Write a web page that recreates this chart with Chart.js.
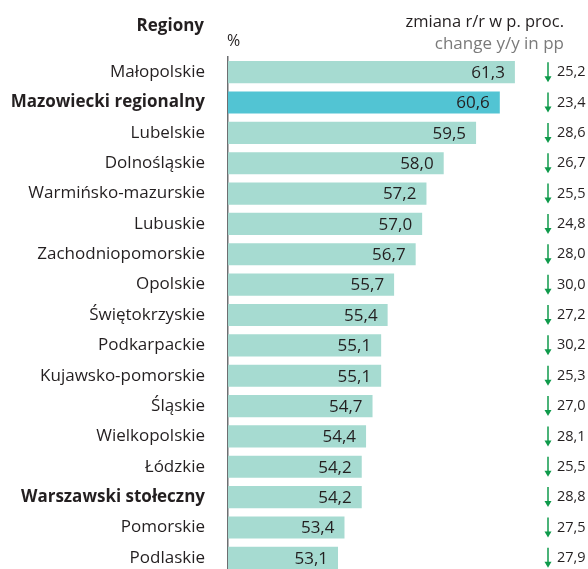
<!DOCTYPE html>
<html>
<head>
<meta charset="utf-8">
<script src="https://cdn.jsdelivr.net/npm/chart.js@4.4.1/dist/chart.umd.min.js"></script>
<style>
    html, body { margin: 0; padding: 0; background: #fff; overflow: hidden; }
    #wrap { position: relative; width: 588px; height: 573px; }
</style>
</head>
<body>
<div id="wrap"><canvas id="regionsChart"></canvas></div>
<script>
const regions = [
    'Małopolskie', 'Mazowiecki regionalny', 'Lubelskie', 'Dolnośląskie',
    'Warmińsko-mazurskie', 'Lubuskie', 'Zachodniopomorskie', 'Opolskie',
    'Świętokrzyskie', 'Podkarpackie', 'Kujawsko-pomorskie', 'Śląskie',
    'Wielkopolskie', 'Łódzkie', 'Warszawski stołeczny', 'Pomorskie', 'Podlaskie'
];
const shares = [61.3, 60.6, 59.5, 58.0, 57.2, 57.0, 56.7, 55.7, 55.4, 55.1, 55.1, 54.7, 54.4, 54.2, 54.2, 53.4, 53.1];
const changes = [25.2, 23.4, 28.6, 26.7, 25.5, 24.8, 28.0, 30.0, 27.2, 30.2, 25.3, 27.0, 28.1, 25.5, 28.8, 27.5, 27.9];
const boldRegions = ['Mazowiecki regionalny', 'Warszawski stołeczny'];
const highlighted = ['Mazowiecki regionalny'];

const FONT = '"Open Sans", "Noto Sans", sans-serif';
const barColors = regions.map(r => highlighted.includes(r) ? '#52c4d3' : '#a6dbd1');

// value labels, y/y change column with arrows, header texts
const annotations = {
    id: 'annotations',
    afterDatasetsDraw(chart) {
        const { ctx } = chart;
        const meta = chart.getDatasetMeta(0);
        const yScale = chart.scales.y;
        ctx.save();
        ctx.textBaseline = 'middle';

        meta.data.forEach((bar, i) => {
            ctx.font = '17px ' + FONT;
            ctx.fillStyle = '#231f20';
            ctx.textAlign = 'right';
            ctx.fillText(shares[i].toFixed(1).replace('.', ','), bar.x - 10, bar.y + 1);

            const y = yScale.getPixelForValue(i);
            const ax = 548;
            ctx.strokeStyle = '#0f9a4b';
            ctx.fillStyle = '#0f9a4b';
            ctx.lineWidth = 1.5;
            ctx.beginPath();
            ctx.moveTo(ax, y - 10);
            ctx.lineTo(ax, y + 5);
            ctx.stroke();
            ctx.beginPath();
            ctx.moveTo(ax - 3.5, y + 4);
            ctx.lineTo(ax + 3.5, y + 4);
            ctx.lineTo(ax, y + 10);
            ctx.closePath();
            ctx.fill();

            ctx.font = '14.5px ' + FONT;
            ctx.fillStyle = '#231f20';
            ctx.textAlign = 'left';
            ctx.fillText(changes[i].toFixed(1).replace('.', ','), 557, y);
        });

        ctx.textBaseline = 'alphabetic';
        ctx.textAlign = 'right';
        ctx.fillStyle = '#231f20';
        ctx.font = 'bold 17px ' + FONT;
        ctx.fillText('Regiony', 204, 31);
        ctx.font = '16.5px ' + FONT;
        ctx.fillText('zmiana r/r w p. proc.', 564, 27);
        ctx.fillStyle = '#7a7a7a';
        ctx.font = '17px ' + FONT;
        ctx.fillText('change y/y in pp', 564, 49);
        ctx.fillStyle = '#231f20';
        ctx.textAlign = 'left';
        ctx.font = '16px ' + FONT;
        ctx.fillText('%', 227, 46);
        ctx.restore();
    }
};

new Chart(document.getElementById('regionsChart'), {
    type: 'bar',
    data: {
        labels: regions,
        datasets: [{
            data: shares,
            backgroundColor: barColors,
            barPercentage: 0.73,
            categoryPercentage: 1,
        }]
    },
    options: {
        indexAxis: 'y',
        responsive: true,
        maintainAspectRatio: false,
        animation: false,
        layout: { padding: { top: 57, right: 58, bottom: 0, left: 0 } },
        plugins: {
            legend: { display: false },
            tooltip: { enabled: false },
        },
        scales: {
            x: { display: false, min: 48, max: 62 },
            y: {
                afterFit: scale => {
                    scale.width = 228;
                    scale.paddingTop = 0;
                    scale.paddingBottom = 0;
                },
                grid: { display: false, drawTicks: false },
                border: { display: true, color: '#6d6e71', width: 1.5 },
                ticks: {
                    padding: 23,
                    color: '#231f20',
                    font: c => ({
                        family: FONT,
                        size: 17,
                        weight: boldRegions.includes(regions[c.index]) ? 'bold' : 'normal'
                    }),
                }
            }
        }
    },
    plugins: [annotations]
});
</script>
</body>
</html>
